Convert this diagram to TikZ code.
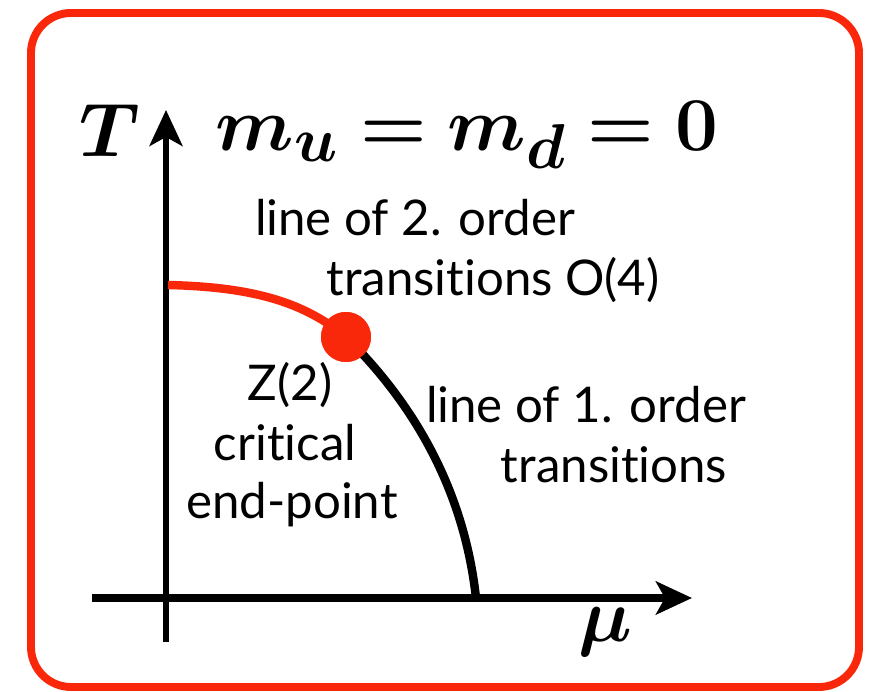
\documentclass[tikz,border=0pt]{standalone}
\usepackage[no-math]{fontspec}
\setmainfont{Lato}[Ligatures={NoCommon}]
\usepackage{amsmath}
\usepackage{bm}
\usetikzlibrary{arrows.meta, positioning}
\definecolor{phasered}{RGB}{250,40,10}
\tikzstyle{phaselabel} = [font=\fontsize{28}{33}\selectfont, align=center, inner sep=0pt]
\tikzstyle{mathlabel}  = [font=\Huge, scale=1.74, inner sep=0pt]
\tikzstyle{axisline}   = [-{Stealth[length=0.72cm, width=0.66cm, inset=0.18cm]}]

\begin{document}
\begin{tikzpicture}[x=0.02cm, y=-0.02cm]
  \useasboundingbox (0,0) rectangle (877,692);
  \draw[phasered, line width=4.5pt, rounded corners=0.8cm] (31,13) rectangle (859,687);

  % axes
  \coordinate (tlow)  at (166,642);
  \coordinate (ttop)  at (166,110);
  \coordinate (muleft) at (92,598);
  \coordinate (muright) at (692,598);
  \draw[axisline, line width=3.4pt] (tlow) -- (ttop);
  \draw[axisline, line width=4.3pt] (muleft) -- (muright);

  % phase boundaries
  \coordinate (tc) at (168,285);
  \coordinate (muc) at (476,598);
  \node (cep) [circle, fill=phasered, minimum size=1cm, inner sep=0pt] at (346,337) {};
  \draw[phasered, line width=4.8pt] (tc) .. controls (255,287) and (305,303) .. (cep.center);
  \draw[black, line width=4.8pt] (cep.center) .. controls (405,395) and (463,480) .. (muc);
  \node[circle, fill=phasered, minimum size=1cm, inner sep=0pt] at (cep) {};

  % labels
  \node (tlabel) [mathlabel] at (110,130) {$\bm{T}$};
  \node (masses) [mathlabel] at (467,135) {$\bm{m_u = m_d = 0}$};
  \node (mulabel) [mathlabel] at (605,632) {$\bm{\mu}$};
  \node (second) [phaselabel] at (415,218) {line of 2. order};
  \node (secondb) [phaselabel] at (493,280) {transitions O(4)};
  \node (zz) [phaselabel] at (290,385) {Z(2)};
  \node (crit) [phaselabel] at (285,443) {critical};
  \node (endp) [phaselabel] at (292,505) {end-point};
  \node (first) [phaselabel] at (586,405) {line of 1. order};
  \node (firstb) [phaselabel] at (614,465) {transitions};
\end{tikzpicture}
\end{document}
